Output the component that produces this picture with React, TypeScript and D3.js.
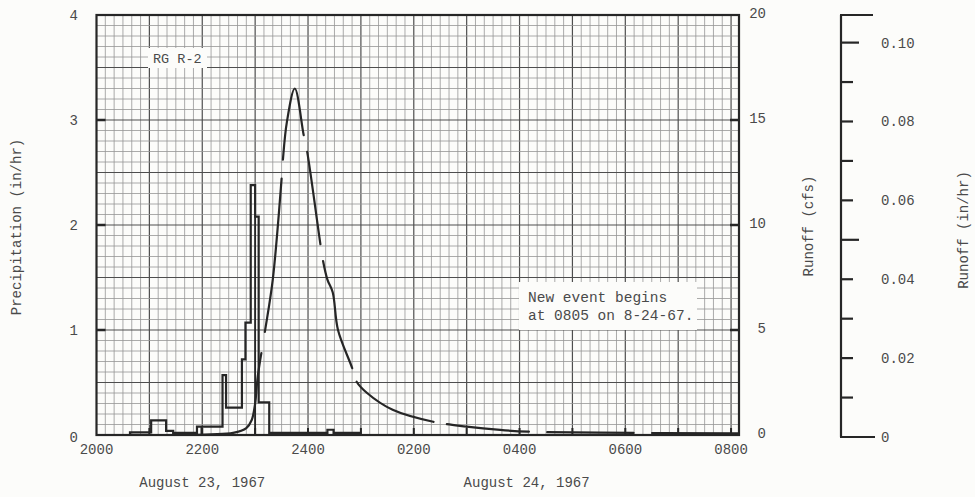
import React, { useEffect, useRef, useState } from 'react';
import * as d3 from 'd3';

// minutes after 2000 on Aug 23, 1967
const precipMinutes = [0, 38, 62, 79, 87, 114, 143, 147, 165, 169, 175, 180, 184, 196, 262, 269, 299];
const precipValues = [0, 0.025, 0.14, 0.04, 0.02, 0.08, 0.57, 0.26, 0.72, 1.07, 2.38, 2.08, 0.31, 0.02, 0.05, 0.02, 0];
const precipDividerMinutes = [119, 180];

const runoffMinutes = [90, 130, 155, 170, 176, 180, 183, 191, 200, 210, 211.5, 216, 225, 235, 239, 254, 257, 262, 268, 274, 290, 295, 307, 336, 382, 420, 458, 490, 571, 729];
const runoffCfs = [0, 0.03, 0.1, 0.33, 0.7, 1.5, 2.8, 4.9, 7.4, 12.2, 13.1, 14.9, 16.5, 14.3, 13.5, 9.1, 8.3, 7.4, 6.8, 5.0, 3.2, 2.55, 2.0, 1.2, 0.63, 0.4, 0.24, 0.16, 0.11, 0.08];
// breaks in the hand-drawn runoff trace (minutes)
const runoffGapStart = [187, 210, 235, 254, 290, 382, 490, 609];
const runoffGapEnd = [191, 211.5, 239, 257, 295, 397, 511, 630];

const timeTickMinutes = [0, 120, 240, 360, 480, 600, 720];
const timeTickLabels = ['2000', '2200', '2400', '0200', '0400', '0600', '0800'];
const precipTicks = [0, 1, 2, 3, 4];
const cfsTicks = [0, 5, 10, 15, 20];
const inHrTicks = [0, 0.01, 0.02, 0.03, 0.04, 0.05, 0.06, 0.07, 0.08, 0.09, 0.1];
const inHrLabelTicks = [0, 0.02, 0.04, 0.06, 0.08, 0.1];
const inHrLabels = ['0', '0.02', '0.04', '0.06', '0.08', '0.10'];
const dateLabels = ['August 23, 1967', 'August 24, 1967'];
const dateLabelMinutes = [120, 488];
const gaugeLabel = 'RG R-2';
const noteLines = ['New event begins', 'at 0805 on 8-24-67.'];

const FONT = '"Liberation Mono", "DejaVu Sans Mono", monospace';
const INK = '#262626';
const TXT = '#4a4a4a';

export default function App() {
  const L = 96.5, R = 739, T = 15, B = 435;
  const x = d3.scaleLinear().domain([0, 729]).range([L, R]);
  const yP = d3.scaleLinear().domain([0, 4]).range([B, T]);
  const yQ = d3.scaleLinear().domain([0, 20]).range([B, T]);
  const yR = d3.scaleLinear().domain([0, 0.107]).range([437, 15]);

  const vGrid = d3.range(10, 729, 10);
  const hGrid = d3.range(1, 40).map((i) => i / 10);

  const stepPts: [number, number][] = precipMinutes.map((m, i) => [x(m), yP(precipValues[i])]);
  stepPts.push([x(729), yP(0)]);
  const stepPath = d3.line().curve(d3.curveStepAfter)(stepPts) || '';

  const runPts: [number, number][] = runoffMinutes.map((m, i) => [x(m), yQ(runoffCfs[i])]);
  const runPath = d3.line().curve(d3.curveCatmullRom.alpha(0.5))(runPts) || '';

  const runRef = useRef<SVGPathElement | null>(null);
  const [dash, setDash] = useState<string | undefined>(undefined);

  useEffect(() => {
    const p = runRef.current;
    if (!p) return;
    const total = p.getTotalLength();
    const lenAtX = (gx: number) => {
      for (let l = 0; l <= total; l += 0.25) {
        if (p.getPointAtLength(l).x >= gx) return l;
      }
      return total;
    };
    const parts: number[] = [];
    let last = 0;
    runoffGapStart.forEach((s, i) => {
      const a = lenAtX(x(s));
      const b = lenAtX(x(runoffGapEnd[i]));
      parts.push(Math.max(0.1, a - last), Math.max(0.1, b - a));
      last = b;
    });
    parts.push(total - last + 10);
    setDash(parts.map((v) => v.toFixed(2)).join(' '));
  }, [runPath]);

  const valueAt = (m: number) => {
    const idx = d3.bisectRight(precipMinutes, m) - 1;
    return precipValues[Math.max(0, idx)];
  };

  const axX = 841;

  return (
    <svg width={975} height={497} style={{ position: 'absolute', left: 0, top: 0 }} fontFamily={FONT}>
      <rect x={0} y={0} width={975} height={497} fill="#fcfcfa" />
      {/* grid */}
      <g>
        {vGrid.map((m) => {
          const major = m % 60 === 0;
          return (
            <line key={'v' + m} x1={x(m)} x2={x(m)} y1={T} y2={B}
              stroke={major ? '#4e4e4e' : '#959595'} strokeWidth={major ? 1.2 : 0.8} />
          );
        })}
        {hGrid.map((v) => {
          const major = Math.round(v * 10) % 5 === 0;
          return (
            <line key={'h' + v} x1={L} x2={R} y1={yP(v)} y2={yP(v)}
              stroke={major ? '#4e4e4e' : '#959595'} strokeWidth={major ? 1.2 : 0.8} />
          );
        })}
      </g>
      {/* label boxes */}
      <rect x={148} y={48} width={59} height={20} fill="#fcfcfa" />
      <text x={153} y={63} fontSize={13.5} fill={TXT}>{gaugeLabel}</text>
      <rect x={519} y={282} width={178} height={48} fill="#fcfcfa" />
      {noteLines.map((s, i) => (
        <text key={s} x={528} y={302 + i * 18} fontSize={14.5} fill={TXT}>{s}</text>
      ))}

      {/* frame */}
      <rect x={L} y={T} width={R - L} height={B - T} fill="none" stroke={INK} strokeWidth={2.2} />
      {precipTicks.slice(1, 4).map((v) => (
        <line key={'lt' + v} x1={L} x2={L + 9} y1={yP(v)} y2={yP(v)} stroke={INK} strokeWidth={2.5} />
      ))}
      {cfsTicks.slice(1, 4).map((v) => (
        <line key={'rt' + v} x1={R - 9} x2={R} y1={yQ(v)} y2={yQ(v)} stroke={INK} strokeWidth={2.5} />
      ))}
      {d3.range(60, 729, 60).map((m) => (
        <line key={'bt' + m} x1={x(m)} x2={x(m)} y1={B - 7} y2={B} stroke={INK} strokeWidth={2} />
      ))}

      {/* precipitation steps */}
      <path d={stepPath} fill="none" stroke={INK} strokeWidth={2.2} strokeLinejoin="miter" />
      {precipDividerMinutes.map((m) => (
        <line key={'d' + m} x1={x(m)} x2={x(m)} y1={yP(0)} y2={yP(valueAt(m))} stroke={INK} strokeWidth={1.8} />
      ))}
      {/* runoff */}
      <path ref={runRef} d={runPath} fill="none" stroke={INK} strokeWidth={2.2} strokeLinecap="round"
        strokeDasharray={dash} />

      {/* left axis labels */}
      {precipTicks.map((v) => (
        <text key={'pl' + v} x={78} y={yP(v) + (v === 0 ? 2 : 0)} dy="0.35em" textAnchor="end" fontSize={14} fill={TXT}>{v}</text>
      ))}
      <text transform={`translate(16,${227}) rotate(-90)`} textAnchor="middle" dy="0.35em" fontSize={14} fill={TXT}>Precipitation (in/hr)</text>

      {/* right cfs axis labels */}
      {cfsTicks.map((v) => (
        <text key={'cl' + v} x={766} y={yQ(v) - 2} dy="0.35em" textAnchor="end" fontSize={14} fill={TXT}>{v}</text>
      ))}
      <text transform={`translate(808,${226}) rotate(-90)`} textAnchor="middle" dy="0.35em" fontSize={14} fill={TXT}>Runoff (cfs)</text>

      {/* x labels */}
      {timeTickMinutes.map((m, i) => (
        <text key={'xl' + m} x={x(m)} y={454} textAnchor="middle" fontSize={14} fill={TXT}>{timeTickLabels[i]}</text>
      ))}
      {dateLabels.map((s, i) => (
        <text key={s} x={x(dateLabelMinutes[i])} y={487} textAnchor="middle" fontSize={14} fill={TXT}>{s}</text>
      ))}

      {/* third axis: runoff in/hr */}
      <line x1={axX} x2={axX} y1={yR(0.107)} y2={yR(0)} stroke={INK} strokeWidth={2.2} />
      <line x1={axX - 1} x2={873} y1={yR(0.107)} y2={yR(0.107)} stroke={INK} strokeWidth={2.2} />
      <line x1={axX - 1} x2={875} y1={yR(0)} y2={yR(0)} stroke={INK} strokeWidth={2.2} />
      {inHrTicks.slice(1).map((v) => {
        const long = Math.abs(v - 0.05) < 1e-9 || Math.abs(v - 0.1) < 1e-9;
        return (
          <line key={'it' + v} x1={axX} x2={axX + (long ? 18 : 12)} y1={yR(v)} y2={yR(v)} stroke={INK} strokeWidth={2.2} />
        );
      })}
      {inHrLabelTicks.map((v, i) => (
        <text key={'il' + v} x={881} y={yR(v)} dy="0.35em" fontSize={14} fill={TXT}>{inHrLabels[i]}</text>
      ))}
      <text transform={`translate(963,${230}) rotate(-90)`} textAnchor="middle" dy="0.35em" fontSize={14} fill={TXT}>Runoff (in/hr)</text>
    </svg>
  );
}
